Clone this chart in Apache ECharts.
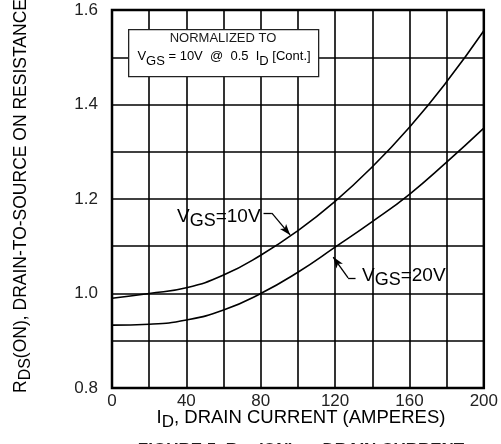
<!DOCTYPE html>
<html>
<head>
<meta charset="utf-8">
<script src="https://cdn.jsdelivr.net/npm/echarts@6/dist/echarts.min.js"></script>
<style>html,body{margin:0;padding:0;background:#fff;}#c{width:501px;height:444px;}</style>
</head>
<body>
<div id="c"></div>
<script>
// Drain current (A)
var drainCurrent = [0, 20, 40, 60, 80, 100, 120, 140, 160, 180, 200];
// Normalized RDS(ON)
var rds10V = [0.990, 1.000, 1.012, 1.039, 1.081, 1.133, 1.195, 1.268, 1.352, 1.448, 1.556];
var rds20V = [0.933, 0.935, 0.944, 0.965, 1.000, 1.045, 1.098, 1.152, 1.210, 1.278, 1.350];
var xTickLabels = ['0', '40', '80', '120', '160', '200'];
var yTickLabels = ['0.8', '1.0', '1.2', '1.4', '1.6'];
// annotation leader lines [from, bend, tip] in data units
var leader10V = [[81.5, 1.170], [86, 1.170], [95.8, 1.124]];
var leader20V = [[131, 1.033], [127, 1.033], [119, 1.077]];

function pairs(xs, ys) { return xs.map(function (x, i) { return [x, ys[i]]; }); }
function leaderLines(p) {
  return [
    [{ coord: p[0], symbol: 'none' }, { coord: p[1], symbol: 'none' }],
    [{ coord: p[1], symbol: 'none' }, { coord: p[2], symbol: 'arrow', symbolSize: [6, 11] }]
  ];
}

var chart = echarts.init(document.getElementById('c'), null, { renderer: 'canvas' });
var txt = '#1a1a1a';
var font = 'Arial, "Liberation Sans", sans-serif';
var subRich = function (size, sub, shift) {
  return {
    n: { fontSize: size, fontFamily: font, color: txt, lineHeight: size + 2, verticalAlign: 'top' },
    s: { fontSize: sub, fontFamily: font, color: txt, lineHeight: size + 2, verticalAlign: 'top', padding: [shift, 0, 0, 0] }
  };
};

chart.setOption({
  animation: false,
  backgroundColor: '#fff',
  grid: { left: 112, top: 10, right: 11, bottom: 56, show: true, borderColor: '#000', borderWidth: 2.5, backgroundColor: 'transparent' },
  xAxis: {
    type: 'value', min: 0, max: 200, interval: 20,
    axisLine: { show: false }, axisTick: { show: false },
    splitLine: { show: true, lineStyle: { color: '#000', width: 1.6 } },
    axisLabel: {
      margin: 5, fontSize: 17, fontFamily: font, color: '#222', showMaxLabel: true,
      formatter: function (v) { var s = String(Math.round(v)); return xTickLabels.indexOf(s) >= 0 ? s : ''; }
    }
  },
  yAxis: {
    type: 'value', min: 0.8, max: 1.6, interval: 0.1,
    axisLine: { show: false }, axisTick: { show: false },
    splitLine: { show: true, lineStyle: { color: '#000', width: 1.6 } },
    axisLabel: {
      margin: 14, fontSize: 17, fontFamily: font, color: '#222',
      formatter: function (v) { var s = v.toFixed(1); return yTickLabels.indexOf(s) >= 0 ? s : ''; }
    }
  },
  series: [
    {
      name: 'VGS=10V', type: 'line', smooth: 0.5, showSymbol: false, symbol: 'none',
      data: pairs(drainCurrent, rds10V),
      lineStyle: { color: '#000', width: 1.6 },
      markLine: { silent: true, symbol: 'none', label: { show: false },
        lineStyle: { color: '#000', width: 1.3, type: 'solid' }, data: leaderLines(leader10V) }
    },
    {
      name: 'VGS=20V', type: 'line', smooth: 0.5, showSymbol: false, symbol: 'none',
      data: pairs(drainCurrent, rds20V),
      lineStyle: { color: '#000', width: 1.6 },
      markLine: { silent: true, symbol: 'none', label: { show: false },
        lineStyle: { color: '#000', width: 1.3, type: 'solid' }, data: leaderLines(leader20V) }
    }
  ],
  graphic: [
    // normalization box
    { type: 'rect', left: 128, top: 29, shape: { width: 190, height: 47 }, style: { fill: '#fff', stroke: '#222', lineWidth: 1.3 }, z: 10 },
    { type: 'text', x: 223, y: 32, z: 11, style: { text: 'NORMALIZED TO', fontSize: 13, fontFamily: font, fill: txt, textAlign: 'center', textVerticalAlign: 'top' } },
    { type: 'text', x: 224, y: 50, z: 11, style: {
        text: '{n|V}{s|GS}{n| = 10V  @  0.5  I}{s|D}{n| [Cont.]}', textAlign: 'center', textVerticalAlign: 'top',
        rich: subRich(13, 13, 5) } },
    // curve labels
    { type: 'text', x: 177, y: 207, z: 11, style: {
        text: '{n|V}{s|GS}{n|=10V}', textAlign: 'left', textVerticalAlign: 'top', rich: subRich(19, 18, 5) } },
    { type: 'text', x: 362, y: 266, z: 11, style: {
        text: '{n|V}{s|GS}{n|=20V}', textAlign: 'left', textVerticalAlign: 'top', rich: subRich(19, 18, 5) } },
    // axis titles
    { type: 'text', x: 301, y: 408, style: {
        text: '{n|I}{s|D}{n|, DRAIN CURRENT (AMPERES)}', textAlign: 'center', textVerticalAlign: 'top', rich: subRich(18.5, 17, 6) } },
    { type: 'text', x: 12, y: 393, rotation: Math.PI / 2, style: {
        text: '{n|R}{s|DS}{n|(ON), DRAIN-TO-SOURCE ON RESISTANCE}', textAlign: 'left', textVerticalAlign: 'top', rich: subRich(17.5, 16, 6) } },
    // figure caption (cut by the bottom edge)
    { type: 'text', x: 301, y: 440, style: {
        text: 'FIGURE 5. R{s|DS}(ON) vs DRAIN CURRENT', textAlign: 'center', textVerticalAlign: 'top',
        fontSize: 17, fontWeight: 'bold', fontFamily: font, fill: txt,
        rich: { s: { fontSize: 14, fontWeight: 'bold', fontFamily: font, color: txt, padding: [6, 0, 0, 0], verticalAlign: 'top' } } } }
  ]
});
</script>
</body>
</html>
